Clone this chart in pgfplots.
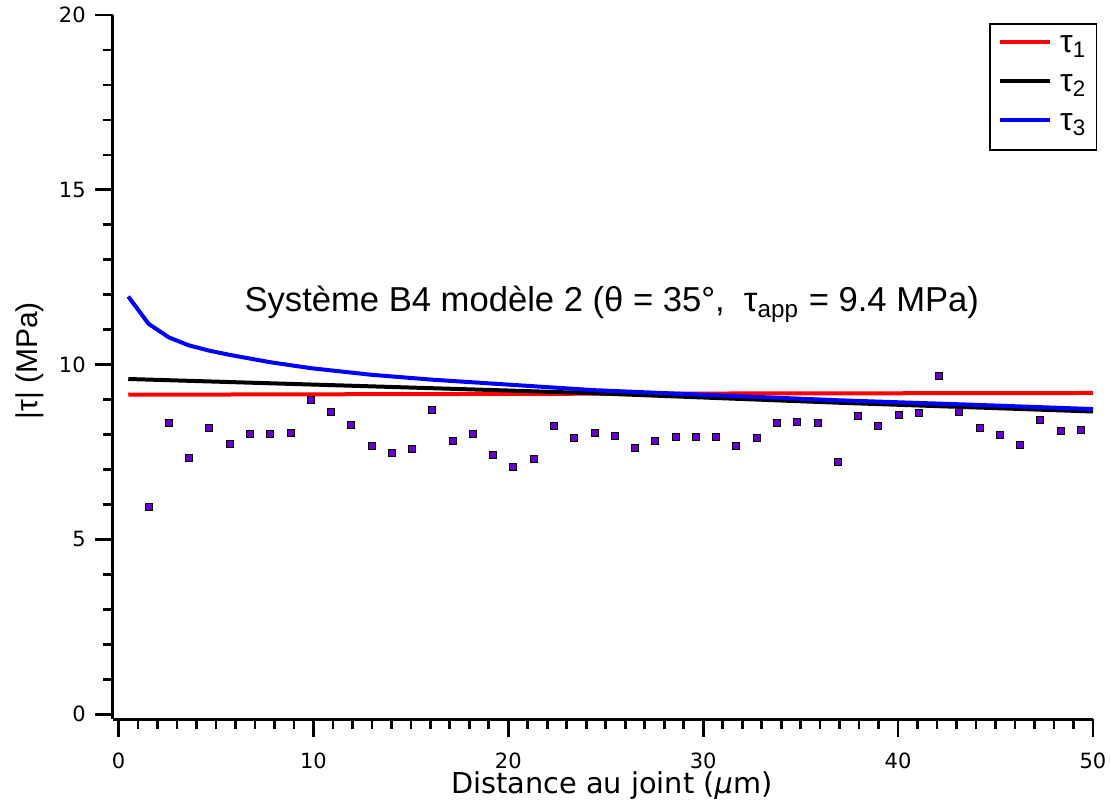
\documentclass[border=0pt]{standalone}
\usepackage{pgfplots}
\pgfplotsset{compat=1.18}
\usepackage{fontspec}
\setmainfont{Liberation Sans}
\newfontfamily\dejavu{DejaVu Sans}
\definecolor{ptscol}{RGB}{102,0,204}
\definecolor{redline}{RGB}{255,0,0}
\definecolor{blueline}{RGB}{0,0,255}

\pgfplotstableread{
x y
1.54 5.92
2.58 8.33
3.62 7.33
4.66 8.19
5.70 7.73
6.74 8.01
7.78 8.01
8.82 8.04
9.86 9.00
10.90 8.64
11.94 8.27
12.98 7.67
14.02 7.47
15.06 7.58
16.10 8.70
17.14 7.81
18.18 8.01
19.22 7.41
20.26 7.07
21.30 7.30
22.34 8.24
23.38 7.90
24.42 8.04
25.46 7.96
26.50 7.61
27.54 7.81
28.58 7.93
29.62 7.93
30.66 7.93
31.70 7.67
32.74 7.90
33.78 8.33
34.82 8.36
35.86 8.33
36.90 7.21
37.94 8.53
38.98 8.24
40.02 8.56
41.06 8.61
42.10 9.68
43.14 8.64
44.18 8.19
45.22 7.99
46.26 7.70
47.30 8.41
48.34 8.10
49.38 8.13
}\pts

\pgfplotstableread{
x y
0.5 9.14
25 9.17
50 9.19
}\tauone

\pgfplotstableread{
x y
0.5 9.59
10 9.43
20 9.26
24 9.19
37 8.91
50 8.66
}\tautwo

\pgfplotstableread{
x y
0.50 11.95
1.54 11.17
2.58 10.78
3.62 10.55
4.66 10.40
5.70 10.28
7.78 10.07
9.86 9.90
12.98 9.71
16.10 9.57
20.26 9.42
24.42 9.27
30.00 9.14
37.00 8.98
44.00 8.85
50.00 8.73
}\tauthree

\begin{document}
\begin{tikzpicture}
\begin{axis}[
  scale only axis,
  width=490.15pt, height=352.15pt,
  xmin=-0.298, xmax=50, ymin=-0.143, ymax=20,
  axis x line=bottom, axis y line=left,
  axis line style={-, line width=1.35pt, black},
  xtick={0,10,...,50}, ytick={0,5,...,20},
  minor x tick num=9, minor y tick num=4,
  tick align=outside,
  major tick length=9pt, minor tick length=5pt,
  tick style={line width=1.35pt, black},
  ticklabel style={font=\dejavu\fontsize{10.5}{12}\selectfont},
  xticklabel style={yshift=-4.3pt},
  yticklabel style={xshift=-1pt},
  /pgf/number format/assume math mode=true,
  xlabel={Distance au joint (\textit{μ}m)},
  ylabel={|τ| (MPa)},
  x label style={font=\dejavu\fontsize{14.4}{16}\selectfont, at={(axis description cs:0.509,0)}, anchor=base, yshift=-36.9pt},
  y label style={font=\fontsize{15}{17}\selectfont, at={(axis description cs:0,0.509)}, anchor=base, yshift=37.7pt},
  legend style={at={(rel axis cs:1,1)}, anchor=north east, xshift=2pt, yshift=-4pt,
    draw=black, line width=0.75pt, inner xsep=4pt, inner ysep=2.25pt,
    font=\fontsize{16}{18}\selectfont,
    nodes={inner sep=1pt, text height=11pt, text depth=6.5pt},
    column sep=3pt},
  legend cell align=left,
  legend image code/.code={\draw[#1, line width=2pt] (0pt,3pt) -- (25pt,3pt);},
  clip=false,
]
\addplot[redline, line width=2pt] table[x=x, y=y] {\tauone};
\addlegendentry{τ\textsubscript{1}}
\addplot[black, line width=2pt] table[x=x, y=y] {\tautwo};
\addlegendentry{τ\textsubscript{2}}
\addplot[blueline, line width=2pt] table[x=x, y=y] {\tauthree};
\addlegendentry{τ\textsubscript{3}}
\addplot[only marks, mark=square*, mark size=1.75pt, mark options={draw=none, fill=ptscol}, forget plot] table[x=x, y=y] {\pts};
\node[anchor=base west, font=\fontsize{17.3}{20}\selectfont, inner sep=0pt] at (axis cs:6.45,11.51)
  {Système B4 modèle 2 (θ = 35°,\ \ τ\textsubscript{app} = 9.4 MPa)};
\end{axis}
\pgfresetboundingbox
\path[use as bounding box] (-56.35pt,-45.85pt) rectangle (498.65pt,359.65pt);
\end{tikzpicture}
\end{document}
